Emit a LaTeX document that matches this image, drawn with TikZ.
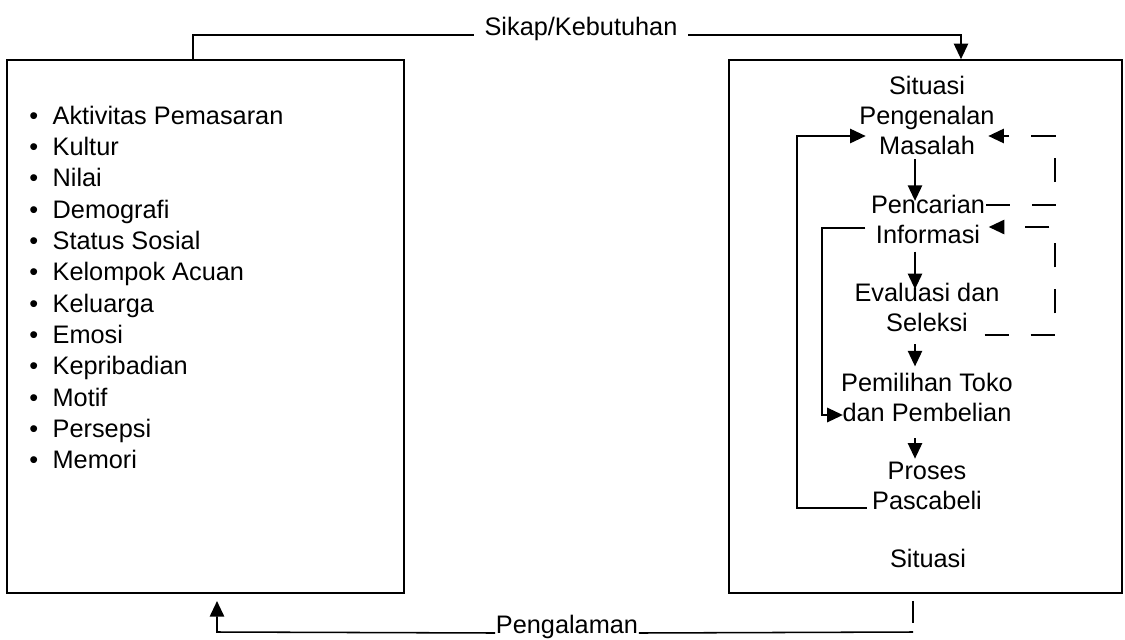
\documentclass[tikz,border=0pt]{standalone}
\usepackage{fontspec}
\setmainfont{Liberation Sans}
\usetikzlibrary{arrows.meta}

\begin{document}
\begin{tikzpicture}[x=0.025cm, y=-0.025cm, line width=1.1pt,
	font=\fontsize{18}{21.3}\selectfont,
	box/.style={draw, rectangle, inner sep=0pt, minimum height=13.325cm},
	stage/.style={align=center, inner sep=0pt},
	arr/.style={-{Triangle[length=0.39cm, width=0.36cm]}},
	loop/.style={dash pattern=on 0.6cm off 0.55cm}]
	\useasboundingbox (0,0) rectangle (1125,639);

	% the two boxes
	\node[box, minimum width=9.925cm] (lbox) at (205.5,326.5) {};
	\node[box, minimum width=9.825cm] (rbox) at (925.5,326.5) {};

	% influences, left box
	\foreach \f [count=\i] in {Aktivitas Pemasaran, Kultur, Nilai, Demografi, Status Sosial, Kelompok Acuan, Keluarga, Emosi, Kepribadian, Motif, Persepsi, Memori}
		\node[anchor=base west, inner sep=0pt] (f\i) at (28.5, {124+31.36*(\i-1)}) {\makebox[0.585cm][l]{\textbullet}\f};

	% decision stages, right box
	\node[stage] (sit) at (927,115) {Situasi\\Pengenalan\\Masalah};
	\node[stage] (cari) at (928,219.5) {Pencarian\\Informasi};
	\node[stage] (eval) at (927,307) {Evaluasi dan\\Seleksi};
	\node[stage] (pilih) at (927,397) {Pemilihan Toko\\dan Pembelian};
	\node[stage] (pasca) at (927,486) {Proses\\Pascabeli};
	\node[stage] (sit2) at (928,558) {Situasi};

	\coordinate (ax) at (915,0);
	\draw[arr, shorten <=0.1cm, shorten >=-0.16cm] (sit.south -| ax) -- (cari.north -| ax);
	\draw[arr, shorten <=0.175cm, shorten >=-0.18cm] (cari.south -| ax) -- (eval.north -| ax);
	\draw[arr, shorten <=0.3cm, shorten >=0.14cm] (eval.south -| ax) -- (pilih.north -| ax);
	\draw[arr, shorten <=0.4cm, shorten >=0.07cm] (pilih.south -| ax) -- (pasca.north -| ax);

	% loops back on the left
	\coordinate (lpA) at (797,136);
	\coordinate (lpB) at (797,508);
	\coordinate (lpC) at (822,228);
	\coordinate (lpD) at (822,415);
	\draw[arr, shorten <=0.12cm, shorten >=-0.175cm] (lpB -| pasca.west) -- (lpB) -- (lpA) -- (lpA -| sit.west);
	\draw[arr, shorten <=0.12cm, shorten >=-0.06cm] (lpC -| cari.west) -- (lpC) -- (lpD) -- (lpD -| pilih.west);

	% dashed feedback on the right
	\coordinate (fbA) at (1055,136);
	\coordinate (fbB) at (1055,205);
	\coordinate (fbC) at (1055,227);
	\coordinate (fbD) at (1055,335);
	\draw[arr, loop, shorten >=-0.175cm] (fbB -| cari.east) -- (fbB) -- (fbA) -- (fbA -| sit.east);
	\draw[arr, loop, shorten <=-0.39cm, shorten >=0.075cm] (fbD -| eval.east) -- (fbD) -- (fbC) -- (fbC -| cari.east);

	% top connector
	\node[anchor=base, inner xsep=0.25cm, inner ysep=0pt] (sikap) at (581,35) {Sikap/Kebutuhan};
	\coordinate (skL) at (193,35);
	\coordinate (skR) at (961,35);
	\draw (sikap.base west) -- (skL) -- (lbox.north -| skL);
	\draw[arr] (sikap.base east) -- (skR) -- (rbox.north -| skR);

	% bottom connector
	\node[anchor=base, inner sep=0pt] (peng) at (567,633) {Pengalaman};
	\coordinate (pgL) at (217,632);
	\coordinate (pgR) at (913,632);
	\draw[arr, shorten >=0.18cm] (peng.base west) -- (pgL) -- (lbox.south -| pgL);
	\draw (peng.base east) -- (pgR);
	\draw[shorten <=0.175cm, shorten >=0.225cm] (rbox.south -| pgR) -- (pgR);
\end{tikzpicture}
\end{document}
